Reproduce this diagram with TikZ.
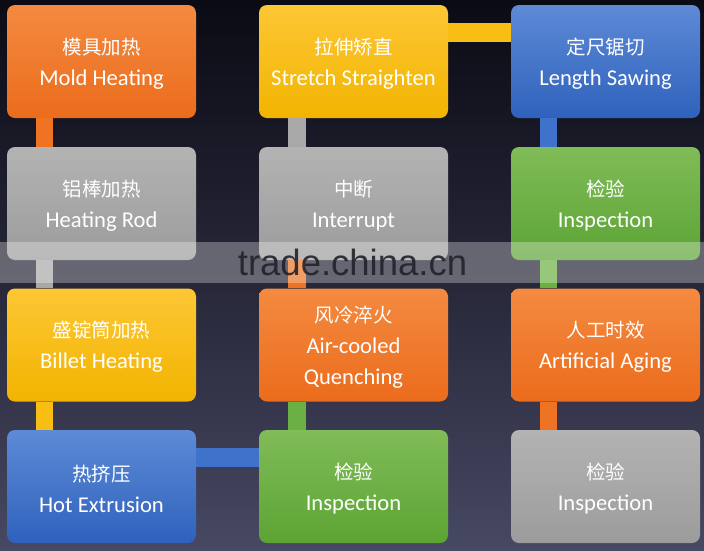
\documentclass[tikz,border=0pt]{standalone}
\usepackage{fontspec}
\setmainfont{Carlito}
\newfontfamily\cjk{Noto Sans CJK SC}
\newfontfamily\wmfont{Liberation Sans}
\definecolor{bgtop}{HTML}{0B0B15}
\definecolor{bgbot}{HTML}{474862}
\definecolor{orT}{HTML}{F48A40}
\definecolor{orB}{HTML}{EB6C1C}
\definecolor{orC}{HTML}{EE7424}
\definecolor{grT}{HTML}{B3B3B3}
\definecolor{grB}{HTML}{9C9C9C}
\definecolor{grC}{HTML}{A8A8A8}
\definecolor{yeT}{HTML}{FDC735}
\definecolor{yeB}{HTML}{F2B400}
\definecolor{yeC}{HTML}{F8BE14}
\definecolor{blT}{HTML}{5E8AD6}
\definecolor{blB}{HTML}{2E62BC}
\definecolor{blC}{HTML}{3F72CA}
\definecolor{gnT}{HTML}{80BC58}
\definecolor{gnB}{HTML}{5CA434}
\definecolor{gnC}{HTML}{6AB042}
\definecolor{wmtext}{HTML}{22222C}
\tikzset{
  procbox/.style={rectangle, rounded corners=8pt, minimum width=189pt, minimum height=113pt,
    inner sep=0pt, align=center, text=white, font=\fontsize{22.6}{31}\selectfont},
  orbox/.style={procbox, top color=orT, bottom color=orB},
  grbox/.style={procbox, top color=grT, bottom color=grB},
  yebox/.style={procbox, top color=yeT, bottom color=yeB},
  blbox/.style={procbox, top color=blT, bottom color=blB},
  gnbox/.style={procbox, top color=gnT, bottom color=gnB},
  vbar/.style={line width=17.5pt, line cap=butt, draw=#1},
  hbar/.style={line width=19pt, line cap=butt, draw=#1},
}
\newcommand\zh[1]{\rule{0pt}{20.5pt}{\cjk\fontsize{19.5}{31}\selectfont #1}}
\begin{document}
\begin{tikzpicture}[x=1pt, y=-1pt]
\useasboundingbox (0,0) rectangle (704,550);
\shade[top color=bgtop, bottom color=bgbot, middle color=bgtop!55!bgbot] (0,0) rectangle (704,550);

% column 1
\node[orbox] (mold)   at (101.5,61.5)  {\zh{模具加热}\\Mold Heating};
\node[grbox] (rod)    at (101.5,203.5) {\zh{铝棒加热}\\Heating Rod};
\node[yebox] (billet) at (101.5,345)   {\zh{盛锭筒加热}\\Billet Heating};
\node[blbox] (extr)   at (101.5,486.5) {\zh{热挤压}\\Hot Extrusion};
% column 2
\node[yebox] (stretch) at (353.5,61.5)  {\zh{拉伸矫直}\\Stretch Straighten};
\node[grbox] (interr)  at (353.5,203.5) {\zh{中断}\\Interrupt};
\node[orbox] (quench)  at (353.5,345)   {\zh{风冷淬火}\\Air-cooled\\Quenching};
\node[gnbox] (insp1)   at (353.5,486.5) {\zh{检验}\\Inspection};
% column 3
\node[blbox] (saw)   at (605.5,61.5)  {\zh{定尺锯切}\\Length Sawing};
\node[gnbox] (insp2) at (605.5,203.5) {\zh{检验}\\Inspection};
\node[orbox] (aging) at (605.5,345)   {\zh{人工时效}\\Artificial Aging};
\node[grbox] (insp3) at (605.5,486.5) {\zh{检验}\\Inspection};

% connectors (colour of the source step)
\draw[vbar=orC] ([xshift=37.5]mold.south west)   -- ([xshift=37.5]rod.north west);
\draw[vbar=grC] ([xshift=37.5]rod.south west)    -- ([xshift=37.5]billet.north west);
\draw[vbar=yeC] ([xshift=37.5]billet.south west) -- ([xshift=37.5]extr.north west);
\draw[hbar=blC] ([yshift=-27.5]extr.north east)  -- ([yshift=-27.5]insp1.north west);
\draw[vbar=gnC] ([xshift=38]insp1.north west)    -- ([xshift=38]quench.south west);
\draw[vbar=orC] ([xshift=38]quench.north west)   -- ([xshift=38]interr.south west);
\draw[vbar=grC] ([xshift=38]interr.north west)   -- ([xshift=38]stretch.south west);
\draw[hbar=yeC] ([yshift=-27.5]stretch.north east) -- ([yshift=-27.5]saw.north west);
\draw[vbar=blC] ([xshift=37.5]saw.south west)    -- ([xshift=37.5]insp2.north west);
\draw[vbar=gnC] ([xshift=37.5]insp2.south west)  -- ([xshift=37.5]aging.north west);
\draw[vbar=orC] ([xshift=37.5]aging.south west)  -- ([xshift=37.5]insp3.north west);

% watermark band
\fill[white, opacity=0.3] (0,242) rectangle (704,282.5);
\node[text=wmtext, opacity=0.9, font=\wmfont\fontsize{36.5}{40}\selectfont, inner sep=0pt, anchor=base] (wm) at (352.5,275.5) {trade.china.cn};
\end{tikzpicture}
\end{document}
